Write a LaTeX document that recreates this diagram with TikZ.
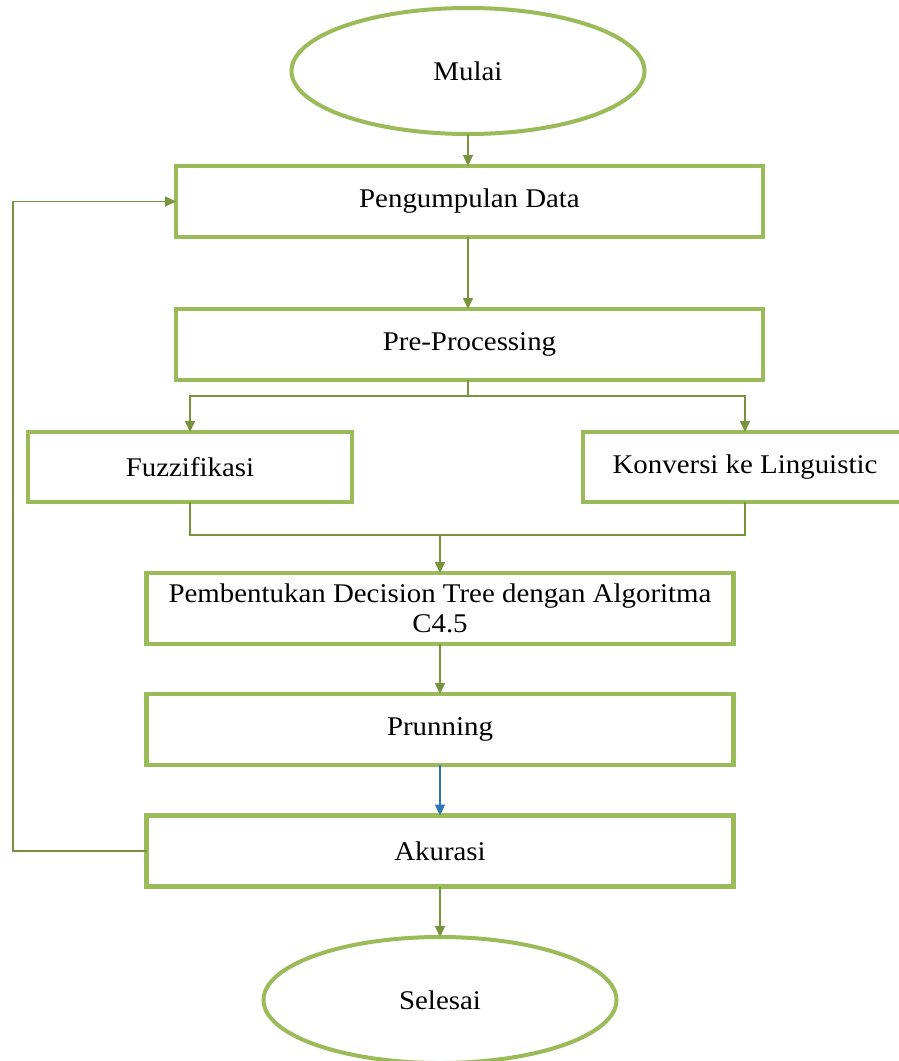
\documentclass[tikz,border=0pt]{standalone}
\usepackage{fontspec}
\setmainfont{Liberation Serif}[FakeStretch=1.07]
\usetikzlibrary{arrows.meta,shapes.geometric}
\definecolor{boxgreen}{HTML}{9BBB59}
\definecolor{linegreen}{HTML}{77933C}
\definecolor{lineblue}{HTML}{2E75B6}
\tikzset{
  stepbox/.style={draw=boxgreen, line width=4.5pt, rectangle, minimum width=587pt, minimum height=71pt, outer sep=0pt, inner sep=0pt, font=\fontsize{27}{30.5}\selectfont, align=center},
  sidebox/.style={stepbox, minimum width=324pt, minimum height=70pt},
  term/.style={draw=boxgreen, line width=4pt, ellipse, minimum width=353pt, minimum height=126pt, outer sep=0pt, inner sep=0pt, font=\fontsize{27}{30}\selectfont},
  conn/.style={draw=linegreen, line width=1.3pt},
  arr/.style={conn, -{Triangle[length=11pt,width=10pt]}},
}
\begin{document}
\begin{tikzpicture}[x=1pt,y=-1pt]
\useasboundingbox (0,0) rectangle (899,1061);
\clip (0,0) rectangle (899,1061);
\node[term] (mulai) at (468,71) {Mulai};
\node[stepbox] (peng) at (469.5,201.5) {Pengumpulan Data};
\node[stepbox] (pre) at (469.5,344.5) {Pre-Processing};
\node[sidebox] (fuz) at (190,467) {Fuzzifikasi};
\node[sidebox] (kon) at (745,467) {Konversi ke Linguistic};
\node[stepbox] (pemb) at (440,608.5) {Pembentukan Decision Tree dengan Algoritma\\C4.5};
\node[stepbox] (prun) at (440,729.5) {Prunning};
\node[stepbox] (akur) at (440,851) {Akurasi};
\node[term] (sel) at (440,1000) {Selesai};

\draw[arr] (mulai.south) -- (mulai.south |- peng.north);
\draw[arr] (peng.south -| mulai.south) -- (mulai.south |- pre.north);
\coordinate (j1) at (468,396);
\draw[conn] (mulai.south |- pre.south) -- (j1);
\draw[arr] (j1) -| (fuz.north);
\draw[arr] (j1) -| (kon.north);
\coordinate (j2) at (440,535);
\draw[conn] (fuz.south) |- (j2);
\draw[conn] (kon.south) |- (j2);
\draw[arr] (j2) -- (pemb.north);
\draw[arr] (pemb.south) -- (prun.north);
\draw[draw=lineblue, line width=1.3pt, -{Triangle[length=11pt,width=10pt]}] (prun.south) -- (akur.north);
\draw[arr] (akur.south) -- (sel.north);
\coordinate (fb) at (13,851);
\draw[arr] (akur.west) -- (fb) |- (peng.west);
\end{tikzpicture}
\end{document}
